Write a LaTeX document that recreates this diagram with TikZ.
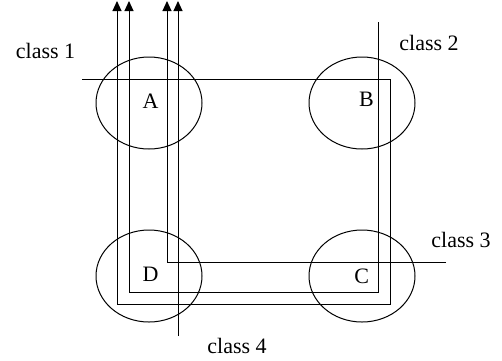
\documentclass[tikz,border=0pt]{standalone}
\usepackage{fontspec}
\setmainfont{Liberation Serif}
\usetikzlibrary{arrows.meta,shapes.geometric}
\begin{document}
\begin{tikzpicture}[x=1pt,y=-1pt,line width=1pt,
  lbl/.style={anchor=base,inner sep=0pt,font=\fontsize{22}{26}\selectfont},
  nlbl/.style={anchor=base,inner sep=0pt,font=\fontsize{22}{26}\selectfont},
  site/.style={draw,ellipse,minimum width=106pt,minimum height=92pt,inner sep=0pt},
  flow/.style={-{Triangle[length=10pt,width=9pt]}}]
\useasboundingbox (0,0) rectangle (502,360);
\node[site] (eA) at (149,103) {};
\node[site] (eB) at (362,103) {};
\node[site] (eC) at (362,276) {};
\node[site] (eD) at (149,276) {};
\node[nlbl] (A) at (150.5,108.3) {A};
\node[nlbl] (B) at (366.5,106.7) {B};
\node[nlbl] (C) at (361.7,283.3) {C};
\node[nlbl] (D) at (150.5,281.7) {D};
\node[lbl] (c1) at (45.5,58.3) {class 1};
\node[lbl] (c2) at (429,50) {class 2};
\node[lbl] (c3) at (461,247) {class 3};
\node[lbl] (c4) at (237,353.3) {class 4};
\coordinate (s1) at (82,79);
\coordinate (s2) at (378,22);
\coordinate (s3) at (446,262);
\coordinate (s4) at (178,336);
\coordinate (t1) at (117,1);
\coordinate (t2) at (129,1);
\coordinate (t3) at (167,1);
\coordinate (t4) at (178,1);
\draw[flow] (s1) -- (390,79) -- (390,304) -- (117,304) -- (t1);
\draw[flow] (s2) -- (378,292) -- (129,292) -- (t2);
\draw[flow] (s3) -- (167,262) -- (t3);
\draw[flow] (s4) -- (t4);
\end{tikzpicture}
\end{document}
